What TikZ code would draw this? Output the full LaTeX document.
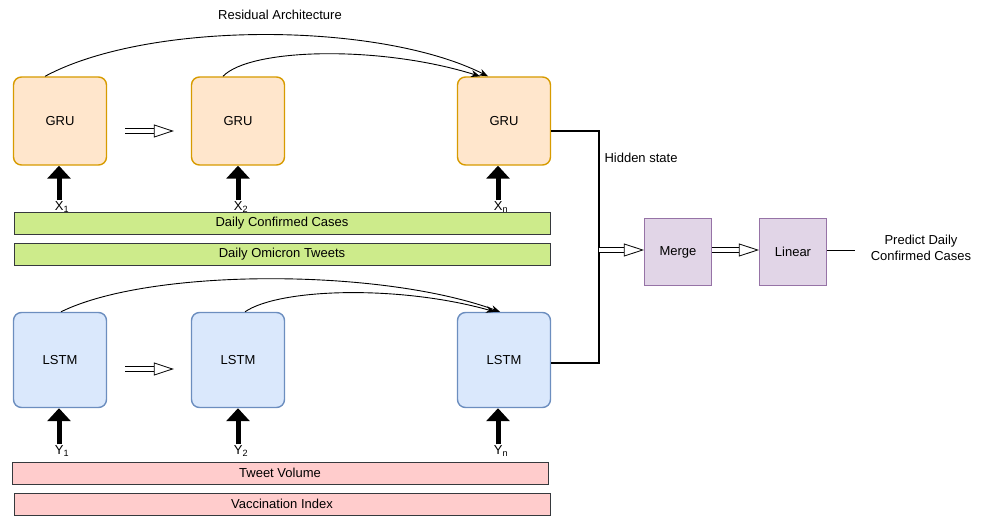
\documentclass[tikz,border=0pt]{standalone}
\usepackage{fontspec}
\setmainfont{Liberation Sans}
\usetikzlibrary{arrows.meta}

\definecolor{gruFill}{HTML}{FFE6CC}
\definecolor{gruLine}{HTML}{D79B00}
\definecolor{lstmFill}{HTML}{DAE8FC}
\definecolor{lstmLine}{HTML}{6C8EBF}
\definecolor{greenFill}{HTML}{CDEB8B}
\definecolor{pinkFill}{HTML}{FFCCCC}
\definecolor{barLine}{HTML}{36393D}
\definecolor{blockFill}{HTML}{E1D5E7}
\definecolor{blockLine}{HTML}{9673A6}

\begin{document}
\begin{tikzpicture}[x=1pt,y=-1pt,font=\fontsize{13}{16}\selectfont]
	 \tikzstyle{cell}=[draw,rounded corners=8pt,line width=1.4pt,minimum width=93pt]
	 \tikzstyle{gru cell}=[cell,fill=gruFill,draw=gruLine,minimum height=88pt]
	 \tikzstyle{lstm cell}=[cell,fill=lstmFill,draw=lstmLine,minimum height=95pt]
	 \tikzstyle{green bar}=[draw=barLine,fill=greenFill,line width=1pt,minimum width=536pt,minimum height=22pt,inner sep=0pt]
	 \tikzstyle{pink bar}=[green bar,fill=pinkFill]
	 \tikzstyle{block}=[draw=blockLine,fill=blockFill,line width=1.3pt,minimum size=67pt]
	 \tikzstyle{step label}=[inner sep=1pt]

	 \tikzstyle{input edge}=[-{Triangle[length=13pt,width=23pt]},line width=5pt,black]
	 \tikzstyle{skip edge}=[-{Stealth[length=9pt,width=7pt]},line width=0.9pt]
	 \tikzstyle{hollow edge}=[double,double distance=4pt,line width=0.8pt,-{Triangle[open,fill=white,length=20pt,width=13pt]}]
	 \tikzstyle{state edge}=[-,line width=1.7pt]

	\useasboundingbox (0,0) rectangle (985,516);

	\node (residual) at (280,15) {Residual Architecture};

	\node[gru cell] (gru1) at (60,121) {GRU};
	\node[gru cell] (gru2) at (238,121) {GRU};
	\node[gru cell] (gru3) at (504,121) {GRU};

	\node[lstm cell] (lstm1) at (60,360) {LSTM};
	\node[lstm cell] (lstm2) at (238,360) {LSTM};
	\node[lstm cell] (lstm3) at (504,360) {LSTM};

	\node[green bar] (cases) at (282,223) {Daily Confirmed Cases};
	\node[green bar] (tweets) at (282,254) {Daily Omicron Tweets};
	\node[pink bar] (volume) at (280,473) {Tweet Volume};
	\node[pink bar] (vaccine) at (282,504) {Vaccination Index};

	\node[step label] (x1) at (62,207) {X\textsubscript{1}};
	\node[step label] (x2) at (241,207) {X\textsubscript{2}};
	\node[step label] (x3) at (501,207) {X\textsubscript{n}};
	\node[step label] (y1) at (62,451) {Y\textsubscript{1}};
	\node[step label] (y2) at (241,451) {Y\textsubscript{2}};
	\node[step label] (y3) at (501,451) {Y\textsubscript{n}};

	\draw[input edge] ([xshift=-3pt]x1.north) -- ([xshift=-3pt]x1.north |- gru1.south);
	\draw[input edge] ([xshift=-3pt]x2.north) -- ([xshift=-3pt]x2.north |- gru2.south);
	\draw[input edge] ([xshift=-3pt]x3.north) -- ([xshift=-3pt]x3.north |- gru3.south);
	\draw[input edge] ([xshift=-3pt]y1.north) -- ([xshift=-3pt]y1.north |- lstm1.south);
	\draw[input edge] ([xshift=-3pt]y2.north) -- ([xshift=-3pt]y2.north |- lstm2.south);
	\draw[input edge] ([xshift=-3pt]y3.north) -- ([xshift=-3pt]y3.north |- lstm3.south);

	\draw[hollow edge,shorten <=18pt,shorten >=17pt] ([yshift=-10pt]gru1.east) -- ([yshift=-10pt]gru2.west);
	\draw[hollow edge,shorten <=18pt,shorten >=17pt] ([yshift=-9pt]lstm1.east) -- ([yshift=-9pt]lstm2.west);

	\draw[skip edge] ([xshift=-15pt]gru1.north) .. controls (150,20) and (380,22) .. ([xshift=-16pt]gru3.north);
	\draw[skip edge] ([xshift=-15pt]gru2.north) .. controls (250,48) and (380,45) .. ([xshift=-24pt]gru3.north);
	\draw[skip edge] ([xshift=1pt]lstm1.north) .. controls (150,268) and (380,268) .. ([xshift=-4pt]lstm3.north);
	\draw[skip edge] ([xshift=7pt]lstm2.north) .. controls (280,288) and (400,285) .. ([xshift=-9pt]lstm3.north);

	\coordinate (join) at (599,250);
	\draw[state edge] ([yshift=-10pt]gru3.east) -| (join);
	\draw[state edge] ([yshift=-3pt]lstm3.east) -| (join);
	\node[anchor=west] (hidden) at (601,158) {Hidden state};

	\node[block] (merge) at (678,252) {Merge};
	\node[block] (linear) at (793,252) {Linear};
	\coordinate (predict end) at (855,250);
	\node[align=center] (predict) at (921,248) {Predict Daily\\Confirmed Cases};

	\draw[hollow edge] (join) -- (join -| merge.west);
	\draw[hollow edge] (join -| merge.east) -- (join -| linear.west);
	\draw[line width=0.9pt] (join -| linear.east) -- (predict end);
\end{tikzpicture}
\end{document}
